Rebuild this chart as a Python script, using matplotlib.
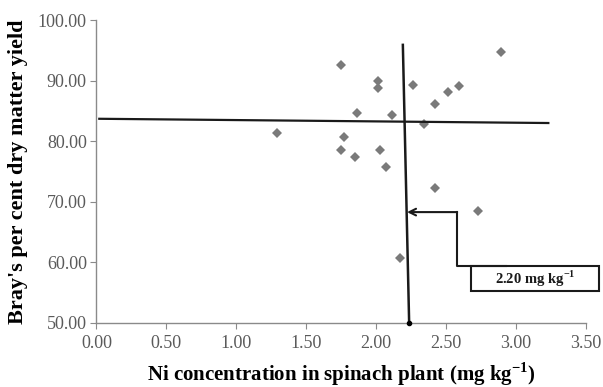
import matplotlib
matplotlib.use("Agg")
import matplotlib.pyplot as plt
from matplotlib.patches import Rectangle

plt.rcParams['font.family'] = ['Liberation Serif', 'DejaVu Serif']
plt.rcParams['mathtext.fontset'] = 'custom'
plt.rcParams['mathtext.rm'] = 'Liberation Serif'
plt.rcParams['mathtext.bf'] = 'Liberation Serif:bold'

# Data: Ni concentration vs Bray's per cent dry matter yield
ni_conc = [1.29, 1.75, 2.01, 2.01, 2.26, 2.89, 2.59, 2.51, 2.42, 1.86,
           2.11, 2.34, 1.77, 1.75, 2.03, 1.85, 2.07, 2.42, 2.73, 2.17]
bray_yield = [81.4, 92.5, 89.9, 88.7, 89.2, 94.7, 89.1, 88.1, 86.1, 84.7,
              84.3, 82.9, 80.7, 78.5, 78.5, 77.4, 75.7, 72.3, 68.5, 60.8]

# Cate-Nelson partition lines
h_line_x = [0.02, 3.23]
h_line_y = [83.7, 83.0]
v_line_x = [2.19, 2.235]
v_line_y = [95.9, 50.0]
critical_label = r"2.20 mg kg$^{\mathbf{-1}}$"

x_ticks = [0.0, 0.5, 1.0, 1.5, 2.0, 2.5, 3.0, 3.5]
y_ticks = [50, 60, 70, 80, 90, 100]

fig = plt.figure(figsize=(6.03, 3.87), dpi=100)
ax = fig.add_axes([0.160, 0.1654, 0.812, 0.7829])

ax.plot(ni_conc, bray_yield, linestyle='none', marker='D', markersize=4.8,
        color='#7a7a7a', markeredgewidth=0, zorder=3)

ax.plot(h_line_x, h_line_y, color='#1a1a1a', lw=1.6, zorder=4)
ax.plot(v_line_x, v_line_y, color='#1a1a1a', lw=1.8, zorder=4)
ax.plot([v_line_x[1]], [v_line_y[1]], marker='o', markersize=3, color='black',
        zorder=5, clip_on=False)

# Arrow pointing to the critical value
ax.annotate('', xy=(2.22, 68.3), xytext=(2.578, 68.3),
            arrowprops=dict(arrowstyle='->', color='#1a1a1a', lw=1.5,
                            shrinkA=0, shrinkB=0, mutation_scale=12), zorder=5)
ax.plot([2.578, 2.578, 2.925], [68.3, 59.45, 59.45], color='#1a1a1a', lw=1.5,
        zorder=4, clip_on=False)
ax.add_patch(Rectangle((2.679, 55.2), 0.912, 4.25, fill=False,
                       edgecolor='#1a1a1a', lw=1.5, clip_on=False, zorder=4))
ax.text(2.679 + 0.912 / 2, 57.3, critical_label, ha='center', va='center',
        fontsize=10.5, fontweight='bold', color='#1a1a1a', zorder=5)

ax.set_xlim(0, 3.5)
ax.set_ylim(50, 100)
ax.set_xticks(x_ticks)
ax.set_yticks(y_ticks)
ax.set_xticklabels([f"{v:.2f}" for v in x_ticks])
ax.set_yticklabels([f"{v:.2f}" for v in y_ticks])

for side in ['top', 'right']:
    ax.spines[side].set_visible(False)
for side in ['left', 'bottom']:
    ax.spines[side].set_color('#8a8a8a')
    ax.spines[side].set_linewidth(1.0)
ax.tick_params(axis='both', direction='out', length=4, color='#8a8a8a',
               labelsize=13, labelcolor='#5a5a5a')
ax.tick_params(axis='x', pad=5)
ax.tick_params(axis='y', pad=3)

ax.set_xlabel(r"Ni concentration in spinach plant (mg kg$^{\mathbf{-1}}$)",
              fontsize=15, fontweight='bold', labelpad=6)
ax.set_ylabel("Bray's per cent dry matter yield", fontsize=16,
              fontweight='bold', labelpad=7)

fig.savefig('out.png', dpi=100)
